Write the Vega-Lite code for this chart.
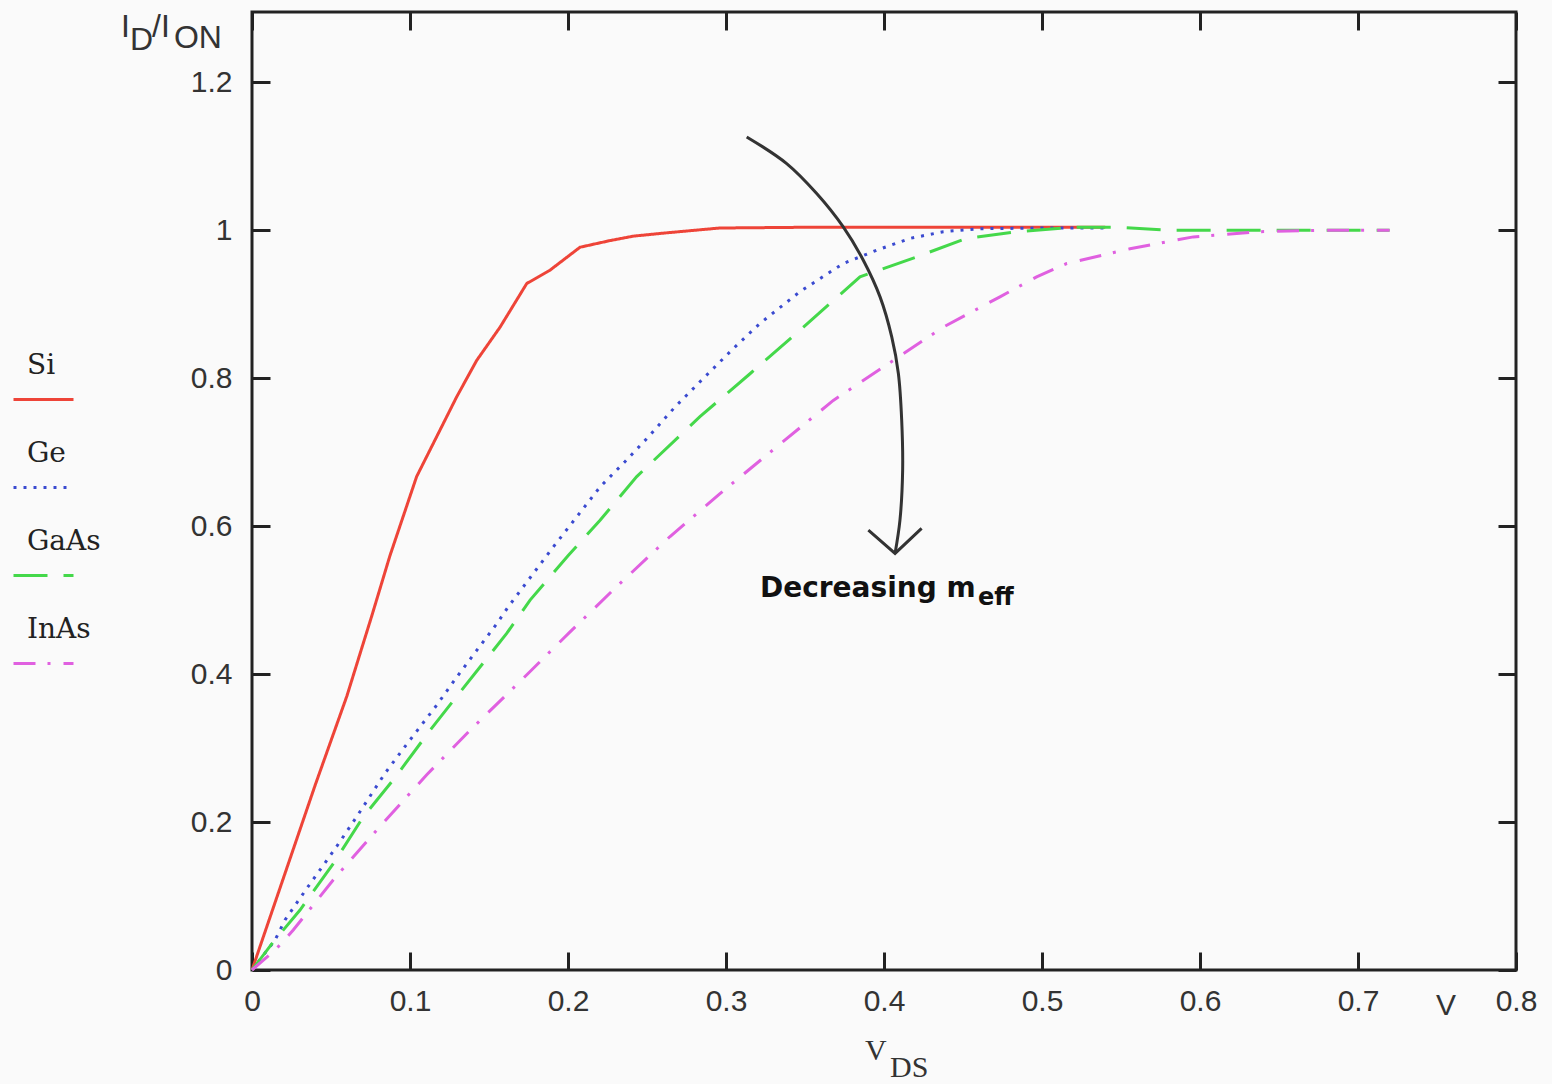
{
  "$schema": "https://vega.github.io/schema/vega-lite/v6.json",
  "width": 1264,
  "height": 958,
  "autosize": {"type": "none"},
  "padding": {"left": 252, "top": 12, "right": 36, "bottom": 114},
  "background": "#fafafa",
  "config": {
    "view": {"stroke": "#222", "strokeWidth": 3},
    "axis": {"domain": false, "grid": false, "tickColor": "#222", "tickWidth": 3, "tickSize": -18, "labelFont": "Liberation Sans", "labelFontSize": 30, "labelColor": "#333", "title": null},
    "legend": {"padding": 0}
  },
  "resolve": {"axis": {"x": "independent", "y": "independent"}},
  "data": {"values": [
    {"m":"Si","v":0,"i":0},{"m":"Si","v":0.02,"i":0.125},{"m":"Si","v":0.04,"i":0.25},{"m":"Si","v":0.06,"i":0.37},{"m":"Si","v":0.076,"i":0.48},{"m":"Si","v":0.0873,"i":0.56},{"m":"Si","v":0.1042,"i":0.667},{"m":"Si","v":0.1169,"i":0.721},{"m":"Si","v":0.1296,"i":0.775},{"m":"Si","v":0.1422,"i":0.824},{"m":"Si","v":0.157,"i":0.869},{"m":"Si","v":0.1739,"i":0.928},{"m":"Si","v":0.1886,"i":0.946},{"m":"Si","v":0.2076,"i":0.977},{"m":"Si","v":0.2266,"i":0.986},{"m":"Si","v":0.2413,"i":0.992},{"m":"Si","v":0.26,"i":0.996},{"m":"Si","v":0.296,"i":1.003},{"m":"Si","v":0.35,"i":1.004},{"m":"Si","v":0.45,"i":1.004},{"m":"Si","v":0.54,"i":1.004},
    {"m":"Ge","v":0,"i":0},{"m":"Ge","v":0.0146,"i":0.0405},{"m":"Ge","v":0.0209,"i":0.0676},{"m":"Ge","v":0.0346,"i":0.11},{"m":"Ge","v":0.0536,"i":0.167},{"m":"Ge","v":0.0662,"i":0.207},{"m":"Ge","v":0.0842,"i":0.266},{"m":"Ge","v":0.0968,"i":0.302},{"m":"Ge","v":0.1169,"i":0.358},{"m":"Ge","v":0.1296,"i":0.396},{"m":"Ge","v":0.1422,"i":0.432},{"m":"Ge","v":0.1549,"i":0.468},{"m":"Ge","v":0.1622,"i":0.491},{"m":"Ge","v":0.19,"i":0.57},{"m":"Ge","v":0.2203,"i":0.653},{"m":"Ge","v":0.236,"i":0.687},{"m":"Ge","v":0.2519,"i":0.723},{"m":"Ge","v":0.2677,"i":0.761},{"m":"Ge","v":0.2825,"i":0.793},{"m":"Ge","v":0.3046,"i":0.84},{"m":"Ge","v":0.3215,"i":0.874},{"m":"Ge","v":0.3468,"i":0.917},{"m":"Ge","v":0.3742,"i":0.955},{"m":"Ge","v":0.3953,"i":0.973},{"m":"Ge","v":0.4165,"i":0.989},{"m":"Ge","v":0.4375,"i":0.998},{"m":"Ge","v":0.46,"i":1.002},{"m":"Ge","v":0.5,"i":1.003},{"m":"Ge","v":0.54,"i":1.003},
    {"m":"GaAs","v":0,"i":0},{"m":"GaAs","v":0.0135,"i":0.038},{"m":"GaAs","v":0.0304,"i":0.081},{"m":"GaAs","v":0.0515,"i":0.144},{"m":"GaAs","v":0.0704,"i":0.207},{"m":"GaAs","v":0.0894,"i":0.257},{"m":"GaAs","v":0.1127,"i":0.324},{"m":"GaAs","v":0.1337,"i":0.381},{"m":"GaAs","v":0.1612,"i":0.455},{"m":"GaAs","v":0.176,"i":0.5},{"m":"GaAs","v":0.2,"i":0.56},{"m":"GaAs","v":0.2203,"i":0.608},{"m":"GaAs","v":0.2435,"i":0.667},{"m":"GaAs","v":0.2835,"i":0.748},{"m":"GaAs","v":0.3152,"i":0.806},{"m":"GaAs","v":0.349,"i":0.869},{"m":"GaAs","v":0.3848,"i":0.937},{"m":"GaAs","v":0.4207,"i":0.964},{"m":"GaAs","v":0.4523,"i":0.989},{"m":"GaAs","v":0.484,"i":0.998},{"m":"GaAs","v":0.52,"i":1.004},{"m":"GaAs","v":0.55,"i":1.004},{"m":"GaAs","v":0.58,"i":1.0},{"m":"GaAs","v":0.65,"i":1.0},{"m":"GaAs","v":0.72,"i":1.0},
    {"m":"InAs","v":0,"i":0},{"m":"InAs","v":0.0156,"i":0.029},{"m":"InAs","v":0.0261,"i":0.054},{"m":"InAs","v":0.0515,"i":0.122},{"m":"InAs","v":0.0789,"i":0.189},{"m":"InAs","v":0.1106,"i":0.264},{"m":"InAs","v":0.138,"i":0.324},{"m":"InAs","v":0.1696,"i":0.39},{"m":"InAs","v":0.2013,"i":0.457},{"m":"InAs","v":0.2287,"i":0.514},{"m":"InAs","v":0.2646,"i":0.586},{"m":"InAs","v":0.2962,"i":0.644},{"m":"InAs","v":0.332,"i":0.707},{"m":"InAs","v":0.3679,"i":0.77},{"m":"InAs","v":0.3996,"i":0.815},{"m":"InAs","v":0.4375,"i":0.869},{"m":"InAs","v":0.4734,"i":0.91},{"m":"InAs","v":0.4966,"i":0.937},{"m":"InAs","v":0.5156,"i":0.955},{"m":"InAs","v":0.5557,"i":0.975},{"m":"InAs","v":0.5958,"i":0.991},{"m":"InAs","v":0.638,"i":0.998},{"m":"InAs","v":0.68,"i":1.0},{"m":"InAs","v":0.72,"i":1.0}
  ]},
  "layer": [
    {
      "mark": {"type": "line", "strokeWidth": 3},
      "encoding": {
        "x": {"field": "v", "type": "quantitative", "scale": {"domain": [0, 0.8], "nice": false}, "axis": {"orient": "bottom", "values": [0,0.1,0.2,0.3,0.4,0.5,0.6,0.7,0.8], "format": ".1~f", "labelPadding": 34, "labelFlush": false}},
        "y": {"field": "i", "type": "quantitative", "scale": {"domain": [0, 1.295], "nice": false}, "axis": {"orient": "left", "values": [0,0.2,0.4,0.6,0.8,1,1.2], "format": ".1~f", "labelPadding": 38, "labelFlush": false}},
        "color": {"field": "m", "type": "nominal", "sort": null, "scale": {"domain": ["Si","Ge","GaAs","InAs"], "range": ["#ee4438","#3a4ad0","#44d84a","#e060e0"]},
          "legend": {"orient": "none", "legendX": -240, "legendY": 356, "title": null, "symbolType": "stroke", "symbolSize": 3600, "symbolStrokeWidth": 3, "rowPadding": 33, "labelFont": "DejaVu Serif", "labelFontSize": 28, "labelColor": "#222", "labelOffset": -48,
            "encode": {"labels": {"update": {"dy": {"value": -34}}}}}},
        "strokeDash": {"field": "m", "type": "nominal", "sort": null, "scale": {"domain": ["Si","Ge","GaAs","InAs"], "range": [[1,0],[3,7],[34,16],[22,12,3,13]]}},
        "order": {"field": "v", "type": "quantitative"}
      }
    },
    {
      "mark": {"type": "point", "opacity": 0},
      "encoding": {
        "x": {"field": "v", "type": "quantitative", "scale": {"domain": [0, 0.8], "nice": false}, "axis": {"orient": "top", "values": [0,0.1,0.2,0.3,0.4,0.5,0.6,0.7,0.8], "labels": false}},
        "y": {"field": "i", "type": "quantitative", "scale": {"domain": [0, 1.295], "nice": false}, "axis": {"orient": "right", "values": [0,0.2,0.4,0.6,0.8,1,1.2], "labels": false}}
      }
    },
    {
      "data": {"values": [
        {"k":1,"x":0.3131,"y":1.1261},{"k":2,"x":0.3384,"y":1.0901},{"k":3,"x":0.3574,"y":1.0496},{"k":4,"x":0.3742,"y":1.0045},{"k":5,"x":0.3869,"y":0.9595},{"k":6,"x":0.3975,"y":0.9099},{"k":7,"x":0.4049,"y":0.8558},{"k":8,"x":0.4091,"y":0.8064},{"k":9,"x":0.4112,"y":0.7432},{"k":10,"x":0.4118,"y":0.6757},{"k":11,"x":0.4101,"y":0.6081},{"k":12,"x":0.407,"y":0.5631}
      ]},
      "mark": {"type": "line", "stroke": "#333", "strokeWidth": 3, "interpolate": "catmull-rom"},
      "encoding": {
        "x": {"field": "x", "type": "quantitative", "scale": {"domain": [0, 0.8], "nice": false}, "axis": null},
        "y": {"field": "y", "type": "quantitative", "scale": {"domain": [0, 1.295], "nice": false}, "axis": null},
        "order": {"field": "k", "type": "quantitative"}
      }
    },
    {
      "data": {"values": [
        {"k":1,"x":0.3901,"y":0.5946},{"k":2,"x":0.407,"y":0.5631},{"k":3,"x":0.4238,"y":0.5969}
      ]},
      "mark": {"type": "line", "stroke": "#333", "strokeWidth": 3},
      "encoding": {
        "x": {"field": "x", "type": "quantitative", "scale": {"domain": [0, 0.8], "nice": false}, "axis": null},
        "y": {"field": "y", "type": "quantitative", "scale": {"domain": [0, 1.295], "nice": false}, "axis": null},
        "order": {"field": "k", "type": "quantitative"}
      }
    },
    {
      "data": {"values": [{"t":"Decreasing m","x":0.458,"y":0.5045}]},
      "mark": {"type": "text", "font": "DejaVu Sans", "fontWeight": "bold", "fontSize": 28, "align": "right", "baseline": "alphabetic", "color": "#111"},
      "encoding": {
        "x": {"field": "x", "type": "quantitative", "scale": {"domain": [0, 0.8], "nice": false}, "axis": null},
        "y": {"field": "y", "type": "quantitative", "scale": {"domain": [0, 1.295], "nice": false}, "axis": null},
        "text": {"field": "t"}
      }
    },
    {
      "data": {"values": [{"t":"eff","x":0.4595,"y":0.493}]},
      "mark": {"type": "text", "font": "DejaVu Sans", "fontWeight": "bold", "fontSize": 24, "align": "left", "baseline": "alphabetic", "color": "#111"},
      "encoding": {
        "x": {"field": "x", "type": "quantitative", "scale": {"domain": [0, 0.8], "nice": false}, "axis": null},
        "y": {"field": "y", "type": "quantitative", "scale": {"domain": [0, 1.295], "nice": false}, "axis": null},
        "text": {"field": "t"}
      }
    },
    {
      "data": {"values": [{"t":"V","x":0.388,"y":-0.1216},{"t":"DS","x":0.4038,"y":-0.1446}]},
      "mark": {"type": "text", "font": "Liberation Serif", "fontSize": 30, "align": "left", "baseline": "alphabetic", "color": "#333"},
      "encoding": {
        "x": {"field": "x", "type": "quantitative", "scale": {"domain": [0, 0.8], "nice": false}, "axis": null},
        "y": {"field": "y", "type": "quantitative", "scale": {"domain": [0, 1.295], "nice": false}, "axis": null},
        "text": {"field": "t"}
      }
    },
    {
      "data": {"values": [{"t":"I","x":-0.0829,"y":1.2608},{"t":"D","x":-0.0772,"y":1.2432},{"t":"/I","x":-0.0633,"y":1.2608},{"t":"ON","x":-0.0494,"y":1.2459}]},
      "mark": {"type": "text", "font": "Liberation Sans", "fontSize": 32, "align": "left", "baseline": "alphabetic", "color": "#333"},
      "encoding": {
        "x": {"field": "x", "type": "quantitative", "scale": {"domain": [0, 0.8], "nice": false}, "axis": null},
        "y": {"field": "y", "type": "quantitative", "scale": {"domain": [0, 1.295], "nice": false}, "axis": null},
        "text": {"field": "t"}
      }
    },
    {
      "data": {"values": [{"t":"V","x":0.7557,"y":-0.0608}]},
      "mark": {"type": "text", "font": "Liberation Sans", "fontSize": 30, "align": "center", "baseline": "alphabetic", "color": "#333"},
      "encoding": {
        "x": {"field": "x", "type": "quantitative", "scale": {"domain": [0, 0.8], "nice": false}, "axis": null},
        "y": {"field": "y", "type": "quantitative", "scale": {"domain": [0, 1.295], "nice": false}, "axis": null},
        "text": {"field": "t"}
      }
    }
  ]
}
